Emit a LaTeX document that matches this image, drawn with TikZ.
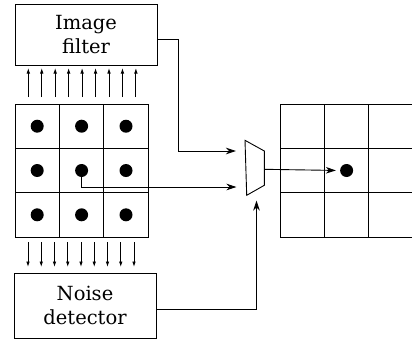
\documentclass[tikz,border=0pt]{standalone}
\usepackage{fontspec}
\setmainfont{Liberation Serif}
\newfontfamily\dvs{DejaVu Serif}
\usetikzlibrary{arrows.meta}
\begin{document}
\begin{tikzpicture}[x=1pt,y=-1pt,
  box/.style={draw,line width=1pt,minimum width=142pt,minimum height=61pt,align=center,inner sep=0pt,font=\fontsize{19.5}{24.5}\selectfont},
  cell/.style={draw,line width=1pt,minimum width=44.4pt,minimum height=44.4pt,inner sep=0pt},
  dot/.style={circle,fill=black,minimum size=13pt,inner sep=0pt},
  conn/.style={line width=0.9pt,-{Stealth[length=10pt,width=6.5pt,inset=3pt]}},
  small/.style={line width=0.9pt,-{Latex[length=5.5pt,width=3.6pt]}}]
\useasboundingbox (0,0) rectangle (412,341);
% boxes
\node[box] (filter) at (86,34.5) {\dvs Image\\\dvs filter};
\node[box,minimum height=65pt] (noise) at (85,305.5) {\dvs Noise\\\dvs detector};
% left grid
\foreach \i/\y in {1/126.2,2/170.5,3/214.8}{
  \foreach \j/\x in {1/37.2,2/81.6,3/126}{
    \node[cell] (g\i\j) at (\x,\y) {};
    \node[dot] (d\i\j) at (g\i\j) {};
  }
}
% right grid
\foreach \i/\y in {1/126.2,2/170.5,3/214.8}{
  \foreach \j/\x in {1/302.2,2/346.6,3/391}{
    \node[cell] (r\i\j) at (\x,\y) {};
  }
}
\node[dot] (odot) at (r22) {};
% small arrows
\foreach \k in {0,...,8}{
  \coordinate (ua\k) at (28.3+13.45*\k,97);
  \coordinate (ub\k) at (28.3+13.45*\k,68);
  \draw[small] (ua\k) -- (ub\k);
  \coordinate (da\k) at (28+13.25*\k,242);
  \coordinate (db\k) at (28+13.25*\k,267);
  \draw[small] (da\k) -- (db\k);
}
% mux
\coordinate (m1) at (245,140.3);
\coordinate (m2) at (264.3,151);
\coordinate (m3) at (264.3,185.3);
\coordinate (m4) at (246.7,195.3);
\draw[line width=0.9pt] (m1) -- (m2) -- (m3) -- (m4) -- cycle;
\coordinate (in1) at (236,151);
\coordinate (in2) at (236.5,187);
\coordinate (in3) at (256.5,200.5);
\coordinate (mout) at (264.3,169.3);
\coordinate (fout) at (157,39);
\coordinate (nout) at (156,309);
% connectors
\draw[conn] (fout) -- ++(21,0) |- (in1);
\draw[conn] (d22.center) |- (in2);
\draw[conn] (nout) -| (in3);
\draw[conn,shorten >=4pt] (mout) -- (odot.west);
\end{tikzpicture}
\end{document}
